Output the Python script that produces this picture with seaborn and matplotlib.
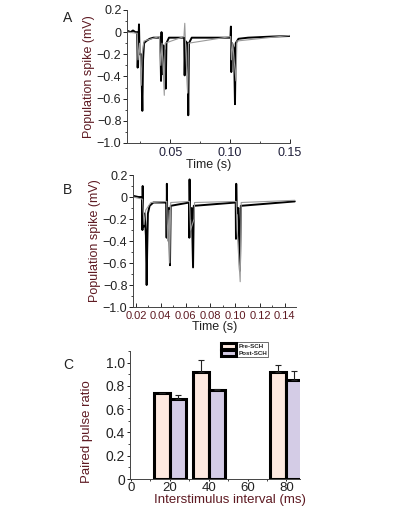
import matplotlib
matplotlib.use('Agg')
import matplotlib.pyplot as plt
import seaborn as sns
import pandas as pd
import numpy as np
from matplotlib.ticker import FixedLocator, FixedFormatter, AutoMinorLocator

sns.set_theme(style='ticks')
plt.rcParams['font.family'] = ['Liberation Sans', 'DejaVu Sans']

MAROON = '#5e1a22'
DARK = '#222222'

# Panel A traces (time in s, potential in mV)
a_black_t = [0.0148, 0.017, 0.019, 0.021, 0.0225, 0.0229, 0.0234, 0.0240, 0.0245, 0.0258, 0.0268,
             0.0274, 0.0282, 0.030, 0.033, 0.036, 0.0418, 0.0424, 0.0428, 0.0432, 0.0445, 0.0457,
             0.0463, 0.0469, 0.049, 0.056, 0.0617, 0.0621, 0.0627, 0.0644, 0.0651, 0.0657, 0.068,
             0.080, 0.090, 0.1003, 0.1007, 0.1010, 0.1016, 0.1033, 0.1041, 0.1047, 0.107, 0.115,
             0.125, 0.135, 0.1495]
a_black_v = [0.01, 0.0, 0.015, 0.0, 0.0, -0.32, -0.15, 0.07, -0.2, -0.2, -0.71,
             -0.25, -0.10, -0.08, -0.06, -0.05, -0.05, -0.44, 0.0, -0.38, -0.12, -0.2,
             -0.51, -0.1, -0.05, -0.05, -0.05, -0.39, -0.08, -0.1, -0.75, -0.1, -0.05,
             -0.05, -0.05, -0.05, 0.05, -0.36, -0.1, -0.15, -0.65, -0.1, -0.06, -0.05,
             -0.045, -0.04, -0.035]
a_gray_t = [0.0148, 0.0226, 0.0232, 0.0245, 0.0259, 0.0266, 0.0282, 0.041, 0.0422, 0.0432, 0.0451,
            0.0458, 0.0615, 0.0622, 0.0628, 0.0646, 0.0653, 0.1005, 0.1011, 0.1022, 0.1049, 0.1057,
            0.1495]
a_gray_v = [0.0, -0.01, -0.25, -0.1, -0.48, -0.2, -0.08, -0.04, -0.3, -0.1, -0.57,
            -0.1, -0.04, 0.08, -0.1, -0.55, -0.1, -0.04, -0.25, -0.1, -0.44, -0.08,
            -0.03]

# Panel B traces
b_black_t = [0.018, 0.022, 0.0250, 0.0252, 0.0254, 0.0257, 0.0262, 0.0270, 0.0280, 0.0286, 0.0290,
             0.0296, 0.031, 0.034, 0.0445, 0.0447, 0.0449, 0.0452, 0.0465, 0.0474, 0.0480, 0.0628,
             0.0630, 0.0632, 0.0636, 0.0650, 0.0660, 0.0666, 0.1004, 0.1006, 0.1008, 0.1012, 0.1025,
             0.1038, 0.1045, 0.148]
b_black_v = [0.01, 0.0, 0.0, -0.30, 0.10, -0.2, -0.27, -0.15, -0.35, -0.80, -0.50,
             -0.15, -0.08, -0.05, -0.05, -0.37, 0.12, -0.2, -0.1, -0.62, -0.08, -0.05,
             -0.37, 0.16, -0.2, -0.1, -0.64, -0.08, -0.05, -0.38, 0.12, -0.15, -0.1,
             -0.67, -0.08, -0.04]
b_gray_t = [0.018, 0.0253, 0.0265, 0.0278, 0.0290, 0.032, 0.0448, 0.0455, 0.0468, 0.0472, 0.0480,
            0.0632, 0.0640, 0.0668, 0.0672, 0.1008, 0.1015, 0.1040, 0.1048, 0.148]
b_gray_v = [0.0, -0.02, -0.25, -0.12, -0.1, -0.05, -0.04, -0.40, -0.12, -0.6, -0.05,
            -0.04, -0.30, -0.2, -0.05, -0.04, -0.3, -0.77, -0.05, -0.03]

# Panel C: paired pulse ratio
intervals = [20, 40, 80]
pre_sch = [0.735, 0.92, 0.92]
pre_err = [0.0, 0.10, 0.06]
post_sch = [0.69, 0.765, 0.85]
post_err = [0.03, 0.01, 0.08]

spike_ticks = [0.2, 0, -0.2, -0.4, -0.6, -0.8, -1.0]
spike_labels = ['0.2', '0', '\u22120.2', '\u22120.4', '\u22120.6', '\u22120.8', '\u22121.0']

fig = plt.figure(figsize=(4.06, 5.11), dpi=100)


def trace_panel(ax, bt, bv, gt, gv, xlim, xticks, xlabels, xcol):
    sns.lineplot(x=bt, y=bv, ax=ax, color='black', lw=1.4, estimator=None, sort=False)
    sns.lineplot(x=gt, y=gv, ax=ax, color='#9a9a9a', lw=0.8, estimator=None, sort=False)
    ax.set_xlim(*xlim)
    ax.set_ylim(-1.0, 0.2)
    ax.yaxis.set_major_locator(FixedLocator(spike_ticks))
    ax.yaxis.set_major_formatter(FixedFormatter(spike_labels))
    ax.yaxis.set_minor_locator(AutoMinorLocator(2))
    ax.xaxis.set_major_locator(FixedLocator(xticks))
    ax.xaxis.set_major_formatter(FixedFormatter(xlabels))
    ax.xaxis.set_minor_locator(AutoMinorLocator(2))
    ax.tick_params(axis='y', direction='out', length=3, width=0.7, labelsize=9, colors=DARK, pad=1)
    ax.tick_params(axis='y', which='minor', direction='out', length=1.5, width=0.6)
    ax.tick_params(axis='x', direction='in', length=3, width=0.7, labelsize=9, pad=3)
    ax.tick_params(axis='x', which='minor', direction='in', length=1.5, width=0.6)
    for lab in ax.get_xticklabels():
        lab.set_color(xcol)
    ax.set_ylabel('Population spike (mV)', color=MAROON, fontsize=9, labelpad=1)
    ax.set_xlabel('Time (s)', color=DARK, fontsize=9, labelpad=0)
    sns.despine(ax=ax)
    for s in ['left', 'bottom']:
        ax.spines[s].set_linewidth(0.7)
        ax.spines[s].set_color('#444444')


# A
axA = fig.add_axes([0.3128, 0.7202, 0.4015, 0.2603])
trace_panel(axA, a_black_t, a_black_v, a_gray_t, a_gray_v, (0.014, 0.15),
            [0.05, 0.10, 0.15], ['0.05', '0.10', '0.15'], '#1f1f3a')

# B
axB = fig.add_axes([0.3276, 0.3992, 0.4015, 0.2583])
trace_panel(axB, b_black_t, b_black_v, b_gray_t, b_gray_v, (0.0176, 0.149),
            [0.02, 0.04, 0.06, 0.08, 0.10, 0.12, 0.14],
            ['0.02', '0.04', '0.06', '0.08', '0.10', '0.12', '0.14'], MAROON)
for lab in axB.get_xticklabels():
    lab.set_fontsize(8)

# C
axC = fig.add_axes([0.3202, 0.0626, 0.4187, 0.2505])
x = np.array(intervals, dtype=float)
w = 8.2
axC.bar(x - w / 2, pre_sch, width=w, color='#fde9e0', edgecolor='black', linewidth=2.2,
        label='Pre-SCH', zorder=2)
axC.bar(x + w / 2, post_sch, width=w, color='#d4cce6', edgecolor='black', linewidth=2.2,
        label='Post-SCH', zorder=2)
axC.errorbar(x - w / 2, pre_sch, yerr=[np.zeros(3), pre_err], fmt='none', ecolor='#222222',
             elinewidth=0.8, capsize=2, capthick=0.8, zorder=3)
axC.errorbar(x + w / 2, post_sch, yerr=[np.zeros(3), post_err], fmt='none', ecolor='#222222',
             elinewidth=0.8, capsize=2, capthick=0.8, zorder=3)
axC.set_xlim(-0.5, 87)
axC.set_ylim(0, 1.1)
axC.set_xticks([0, 20, 40, 60, 80])
axC.set_yticks([0, 0.2, 0.4, 0.6, 0.8, 1.0])
axC.set_yticklabels(['0', '0.2', '0.4', '0.6', '0.8', '1.0'])
axC.xaxis.set_minor_locator(AutoMinorLocator(2))
axC.yaxis.set_minor_locator(AutoMinorLocator(2))
axC.tick_params(axis='y', direction='out', length=2.5, width=0.7, labelsize=10, colors=DARK, pad=1)
axC.tick_params(axis='x', direction='out', length=1.5, width=0.7, labelsize=9.5, colors=DARK, pad=0.5)
axC.tick_params(axis='both', which='minor', direction='out', length=1.2, width=0.6)
axC.set_ylabel('Paired pulse ratio', color=MAROON, fontsize=9.5)
axC.yaxis.set_label_coords(-0.22, 0.37)
axC.set_xlabel('Interstimulus interval (ms)', color=MAROON, fontsize=9.5)
axC.xaxis.set_label_coords(0.59, -0.118)
sns.despine(ax=axC)
for s in ['left', 'bottom']:
    axC.spines[s].set_linewidth(0.7)
    axC.spines[s].set_color('#444444')
leg = axC.legend(loc='upper left', bbox_to_anchor=(0.53, 1.07), fontsize=4.5, frameon=True,
                 fancybox=False, edgecolor='black', handlelength=2.4, handleheight=1.1,
                 borderpad=0.2, labelspacing=0.1, handletextpad=0.3, borderaxespad=0)
leg.get_frame().set_linewidth(0.5)
for t in leg.get_texts():
    t.set_fontweight('bold')

# panel letters
fig.text(68 / 406, 1 - 18 / 511, 'A', fontsize=10, ha='center', va='center', color=DARK)
fig.text(68 / 406, 1 - 190 / 511, 'B', fontsize=10, ha='center', va='center', color=DARK)
fig.text(68 / 406, 1 - 365 / 511, 'C', fontsize=10, ha='center', va='center', color=DARK)

fig.savefig('out.png', dpi=100)
